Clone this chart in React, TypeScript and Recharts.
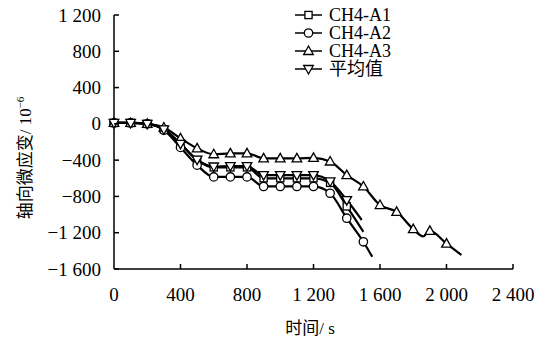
import React from "react";
import { LineChart, Line, XAxis, YAxis } from "recharts";

// time (s) of the marked points, one every 100 s
const markTimes = [0, 100, 200, 300, 400, 500, 600, 700, 800, 900, 1000, 1100, 1200, 1300, 1400, 1500, 1600, 1700, 1800, 1900, 2000];

// axial micro-strain (10^-6)
const a1Strain = [10, 10, 0, -60, -220, -400, -480, -480, -480, -600, -600, -600, -600, -650, -910];
const a2Strain = [10, 10, 0, -70, -260, -455, -585, -585, -585, -690, -690, -690, -690, -765, -1040, -1300];
const a3Strain = [10, 10, 0, -40, -160, -270, -335, -325, -325, -380, -380, -380, -375, -415, -565, -690, -895, -970, -1160, -1180, -1320];
const avgStrain = [10, 10, 0, -60, -220, -395, -470, -465, -465, -565, -565, -565, -565, -635, -840];

// points between markers (curve only, no symbol): [time, strain]
const a1Tail: [number, number][] = [[1500, -1190]];
const a2Tail: [number, number][] = [[1553, -1465]];
const a3Tail: [number, number][] = [[1860, -1240], [2090, -1445]];
const avgTail: [number, number][] = [[1490, -1060]];

const timeTicks = [0, 400, 800, 1200, 1600, 2000, 2400];
const strainTicks = [-1600, -1200, -800, -400, 0, 400, 800, 1200];

const seriesNames = ["CH4-A1", "CH4-A2", "CH4-A3", "平均值"];

type Pt = { t: number; v: number; mark: boolean };

function build(vals: number[], tail: [number, number][]): Pt[] {
  const pts: Pt[] = vals.map((v, i) => ({ t: markTimes[i], v, mark: true }));
  tail.forEach(([t, v]) => pts.push({ t, v, mark: false }));
  return pts.sort((a, b) => a.t - b.t);
}

const a1Data = build(a1Strain, a1Tail);
const a2Data = build(a2Strain, a2Tail);
const a3Data = build(a3Strain, a3Tail);
const avgData = build(avgStrain, avgTail);

const SERIF = "'Liberation Serif', 'Times New Roman', serif";
const CJK = "'Liberation Serif', 'Noto Sans CJK SC', serif";

function fmt(v: number) {
  const s = String(Math.abs(v)).replace(/\B(?=(\d{3})+(?!\d))/g, " ");
  return v < 0 ? "\u2212" + s : s;
}

type Shape = "square" | "circle" | "up" | "down";

function Marker({ cx, cy, shape }: { cx: number; cy: number; shape: Shape }) {
  const p = { fill: "#fff", stroke: "#000", strokeWidth: 1.3 };
  if (shape === "square") return <rect x={cx - 3.6} y={cy - 3.6} width={7.2} height={7.2} {...p} />;
  if (shape === "circle") return <circle cx={cx} cy={cy} r={4.2} {...p} />;
  if (shape === "up")
    return <polygon points={`${cx},${cy - 5} ${cx - 4.8},${cy + 3.5} ${cx + 4.8},${cy + 3.5}`} {...p} />;
  return <polygon points={`${cx},${cy + 5} ${cx - 4.8},${cy - 3.5} ${cx + 4.8},${cy - 3.5}`} {...p} />;
}

function dotFor(shape: Shape) {
  return (props: any) => {
    const { cx, cy, payload, index } = props;
    if (!payload?.mark || cx == null || cy == null) return <g key={`d-${shape}-${index}`} />;
    return (
      <g key={`d-${shape}-${index}`}>
        <Marker cx={cx} cy={cy} shape={shape} />
      </g>
    );
  };
}

function YTick({ x, y, payload }: any) {
  return (
    <g>
      <line x1={x} x2={x + 5} y1={y} y2={y} stroke="#000" strokeWidth={1.5} />
      <text x={x - 13} y={y} dy={6.5} textAnchor="end" fontFamily={SERIF} fontSize={19} fill="#000">
        {fmt(payload.value)}
      </text>
    </g>
  );
}

function XTick({ x, y, payload }: any) {
  return (
    <g>
      {payload.value !== 0 && <line x1={x} x2={x} y1={y} y2={y - 5} stroke="#000" strokeWidth={1.5} />}
      <text x={x} y={y + 32} textAnchor="middle" fontFamily={SERIF} fontSize={19} fill="#000">
        {fmt(payload.value)}
      </text>
    </g>
  );
}

const shapes: Shape[] = ["square", "circle", "up", "down"];

function ChartLegend() {
  return (
    <svg width={140} height={82} style={{ position: "absolute", left: 290, top: 4 }}>
      {seriesNames.map((name, i) => {
        const cy = 11 + i * 18;
        return (
          <g key={name}>
            <line x1={5} x2={32} y1={cy} y2={cy} stroke="#000" strokeWidth={1.5} />
            <Marker cx={18.5} cy={cy} shape={shapes[i]} />
            <text x={39} y={cy + 6} fontFamily={CJK} fontSize={18} fill="#000">
              {name}
            </text>
          </g>
        );
      })}
    </svg>
  );
}

export default function App() {
  return (
    <div style={{ position: "absolute", left: 0, top: 0, width: 535, height: 338, background: "#fff" }}>
      <LineChart width={535} height={338} margin={{ top: 15, right: 22, bottom: 0, left: 0 }}>
        <XAxis
          type="number"
          dataKey="t"
          domain={[0, 2400]}
          ticks={timeTicks}
          height={69}
          tickSize={0}
          tickMargin={0}
          tick={<XTick />}
          axisLine={{ stroke: "#000", strokeWidth: 1.5 }}
          allowDuplicatedCategory={false}
        />
        <YAxis
          type="number"
          dataKey="v"
          domain={[-1600, 1200]}
          ticks={strainTicks}
          width={114}
          tickSize={0}
          tickMargin={0}
          tick={<YTick />}
          axisLine={{ stroke: "#000", strokeWidth: 1.5 }}
          allowDataOverflow
        />
        <Line data={a1Data} dataKey="v" type="monotone" stroke="#000" strokeWidth={2.2} dot={dotFor("square")} isAnimationActive={false} />
        <Line data={a2Data} dataKey="v" type="monotone" stroke="#000" strokeWidth={2.2} dot={dotFor("circle")} isAnimationActive={false} />
        <Line data={a3Data} dataKey="v" type="monotone" stroke="#000" strokeWidth={2.2} dot={dotFor("up")} isAnimationActive={false} />
        <Line data={avgData} dataKey="v" type="monotone" stroke="#000" strokeWidth={2.2} dot={dotFor("down")} isAnimationActive={false} />
      </LineChart>
      <ChartLegend />
      <svg width={40} height={338} style={{ position: "absolute", left: 0, top: 0 }}>
        <text
          transform="translate(31 158) rotate(-90)"
          textAnchor="middle"
          fontFamily={CJK}
          fontSize={17}
          fill="#000"
        >
          轴向微应变/ 10
          <tspan fontSize={11} dy={-7}>
            −6
          </tspan>
        </text>
      </svg>
      <div
        style={{
          position: "absolute",
          left: 0,
          width: 535,
          top: 319,
          textAlign: "center",
          paddingLeft: 85,
          boxSizing: "border-box",
          fontFamily: CJK,
          fontSize: 17,
          lineHeight: "20px",
        }}
      >
        时间/ s
      </div>
    </div>
  );
}
